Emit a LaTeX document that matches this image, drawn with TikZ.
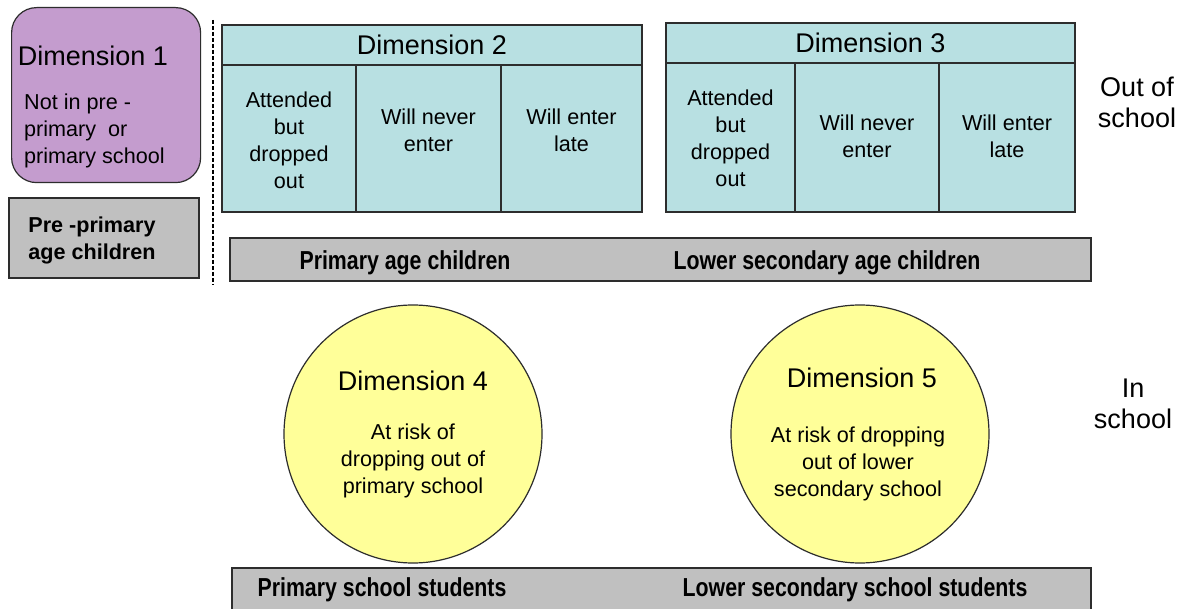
\documentclass[tikz,border=0pt]{standalone}
\usepackage{fontspec}
\setmainfont{Liberation Sans}
\newfontfamily\narrowbf[FakeStretch=0.82]{Liberation Sans Bold}
\definecolor{dimpurple}{RGB}{196,156,206}
\definecolor{dimcyan}{RGB}{184,224,226}
\definecolor{dimgray}{RGB}{192,192,192}
\definecolor{dimyellow}{RGB}{255,255,153}
\definecolor{edge}{RGB}{45,45,45}
\tikzset{
  big/.style={font=\fontsize{27}{31}\selectfont, align=center, inner sep=0pt},
  small/.style={font=\fontsize{21.6}{27}\selectfont, align=center, inner sep=0pt},
  cell/.style={draw=edge, line width=1.2pt, fill=dimcyan, anchor=north west, inner sep=0pt, outer sep=0pt},
  graybar/.style={draw=edge, line width=1.2pt, fill=dimgray, anchor=north west, inner sep=0pt, outer sep=0pt},
  barlabel/.style={font=\narrowbf\fontsize{26}{31}\selectfont, inner sep=0pt},
  circ/.style={draw=edge, line width=1.2pt, fill=dimyellow, ellipse, inner sep=0pt},
}
\usetikzlibrary{shapes.geometric}
\begin{document}
\begin{tikzpicture}[x=1pt,y=-1pt]
\useasboundingbox[fill=white] (0,0) rectangle (1181,609);
% Dimension 1
\node[draw=edge, line width=1.2pt, fill=dimpurple, rounded corners=25pt, anchor=north west, minimum width=189pt, minimum height=175pt, inner sep=0pt] (d1) at (11,7) {};
\node[big] (d1t) at (93,56) {Dimension 1};
\node[small, align=left, anchor=west] (d1b) at (24,131) {Not in pre -\\primary~ or\\primary school};
% Pre-primary
\node[graybar, minimum width=190pt, minimum height=80pt] (pp) at (9,198) {};
\node[small, font=\bfseries\fontsize{21.6}{27}\selectfont] (ppt) at (92,240) {Pre -primary\\age children};
% dashed separator
\coordinate (sepA) at (213,20);
\coordinate (sepB) at (213,285);
\draw[line width=1.4pt, dash pattern=on 4pt off 2pt] (sepA) -- (sepB);
% Dimension 2
\node[cell, minimum width=420pt, minimum height=40pt] (d2h) at (222,25) {};
\node[big] at (d2h.center) {Dimension 2};
\node[cell, minimum width=134pt, minimum height=147pt] (d2a) at (222,65) {};
\node[cell, minimum width=145pt, minimum height=147pt] (d2b) at (356,65) {};
\node[cell, minimum width=141pt, minimum height=147pt] (d2c) at (501,65) {};
\node[small] (d2at) at ([yshift=-2pt]d2a.center) {Attended\\but\\dropped\\out};
\node[small] (d2bt) at ([yshift=8pt]d2b.center) {Will never\\enter};
\node[small] (d2ct) at ([yshift=8pt]d2c.center) {Will enter\\late};
% Dimension 3
\node[cell, minimum width=409pt, minimum height=40pt] (d3h) at (666,23) {};
\node[big] at (d3h.center) {Dimension 3};
\node[cell, minimum width=129pt, minimum height=149pt] (d3a) at (666,63) {};
\node[cell, minimum width=144pt, minimum height=149pt] (d3b) at (795,63) {};
\node[cell, minimum width=136pt, minimum height=149pt] (d3c) at (939,63) {};
\node[small] (d3at) at ([yshift=-1pt]d3a.center) {Attended\\but\\dropped\\out};
\node[small] (d3bt) at ([yshift=1pt]d3b.center) {Will never\\enter};
\node[small] (d3ct) at ([yshift=1pt]d3c.center) {Will enter\\late};
% age bar
\node[graybar, minimum width=861pt, minimum height=43pt] (agebar) at (230,238) {};
\node[barlabel] (pac) at (405,263) {Primary age children};
\node[barlabel] (lsac) at (827,263) {Lower secondary age children};
% right labels
\node[big] (oos) at (1137,102) {Out of\\school};
\node[big] (ins) at (1133,404) {In\\school};
% Dimension 4 and 5
\node[circ, minimum width=258pt, minimum height=258pt] (d4) at (413,434) {};
\node[big] (d4t) at (413,381) {Dimension 4};
\node[small] (d4b) at (413,461) {At risk of\\dropping out of\\primary school};
\node[circ, minimum width=258pt, minimum height=258pt] (d5) at (860,434) {};
\node[big] (d5t) at (862,378) {Dimension 5};
\node[small] (d5b) at (858,464) {At risk of dropping\\out of lower\\secondary school};
% student bar
\node[graybar, minimum width=859pt, minimum height=46pt] (stbar) at (232,568) {};
\node[barlabel] (pss) at (382,590) {Primary school students};
\node[barlabel] (lsss) at (855,590) {Lower secondary school students};
\end{tikzpicture}
\end{document}
